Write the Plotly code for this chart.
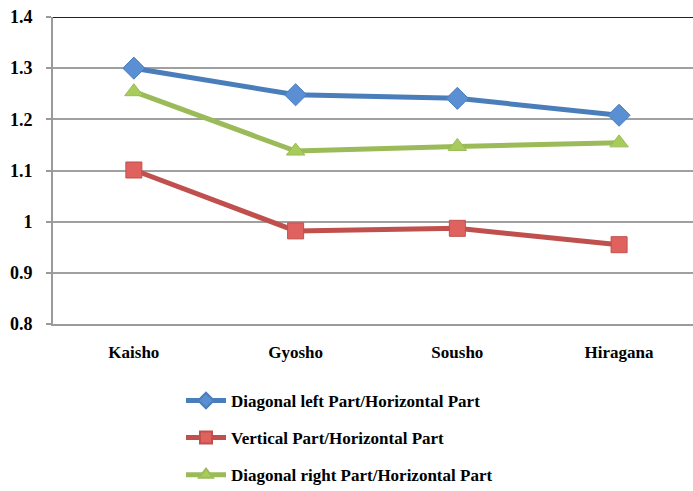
import plotly.graph_objects as go

categories = ["Kaisho", "Gyosho", "Sousho", "Hiragana"]
diag_left = [1.300, 1.248, 1.241, 1.208]
vertical = [1.101, 0.982, 0.987, 0.955]
diag_right = [1.254, 1.138, 1.147, 1.154]

y_ticks = [0.8, 0.9, 1.0, 1.1, 1.2, 1.3, 1.4]
y_tick_text = ["0.8", "0.9", "1", "1.1", "1.2", "1.3", "1.4"]

series = [
    ("Diagonal left Part/Horizontal Part", diag_left, "#4a7ebb", "#5b8fd3", "diamond", 17),
    ("Vertical Part/Horizontal Part", vertical, "#c0504d", "#e0625e", "square", 16),
    ("Diagonal right Part/Horizontal Part", diag_right, "#9bbb59", "#a7cc5c", "triangle-up", 16),
]

font_family = "Liberation Serif"

fig = go.Figure()
for i, (name, vals, lc, mc, sym, sz) in enumerate(series):
    fig.add_trace(go.Scatter(
        x=categories, y=vals, name=name, mode="lines+markers",
        line=dict(color=lc, width=5),
        marker=dict(symbol=sym, size=sz, color=mc, line=dict(color=lc, width=1)),
        legendgroup=f"g{i}",
    ))

# dark top border of the plot area
fig.add_shape(type="line", xref="paper", yref="y", x0=0, x1=1, y0=1.4, y1=1.4,
              line=dict(color="#222222", width=2))

fig.update_layout(
    width=693, height=491,
    margin=dict(l=53, r=0, t=17, b=167, autoexpand=False),
    paper_bgcolor="white", plot_bgcolor="white",
    font=dict(family=font_family, color="black", size=16),
    showlegend=True,
    legend=dict(
        x=0.2, xanchor="left", y=-0.192, yanchor="top",
        orientation="v", tracegroupgap=12, itemsizing="constant",
        font=dict(family=font_family, size=17, color="black", weight="bold"),
        itemwidth=40, bgcolor="rgba(0,0,0,0)",
    ),
    xaxis=dict(
        range=[-0.5, 3.457], showgrid=False, showline=True,
        linecolor="#9a9a9a", linewidth=2, ticks="",
        ticklabelstandoff=12,
        tickfont=dict(family=font_family, size=17, color="black", weight="bold"),
        fixedrange=True,
    ),
    yaxis=dict(
        range=[0.8, 1.4], tickvals=y_ticks, ticktext=y_tick_text,
        showgrid=True, gridcolor="#a0a0a0", gridwidth=1.5,
        showline=True, linecolor="#9a9a9a", linewidth=2,
        ticks="outside", ticklen=5, tickcolor="#9a9a9a", tickwidth=1.5,
        ticklabelstandoff=10,
        tickfont=dict(family=font_family, size=18, color="black", weight="bold"),
        zeroline=False, fixedrange=True,
    ),
)

fig.write_html("out.html")
